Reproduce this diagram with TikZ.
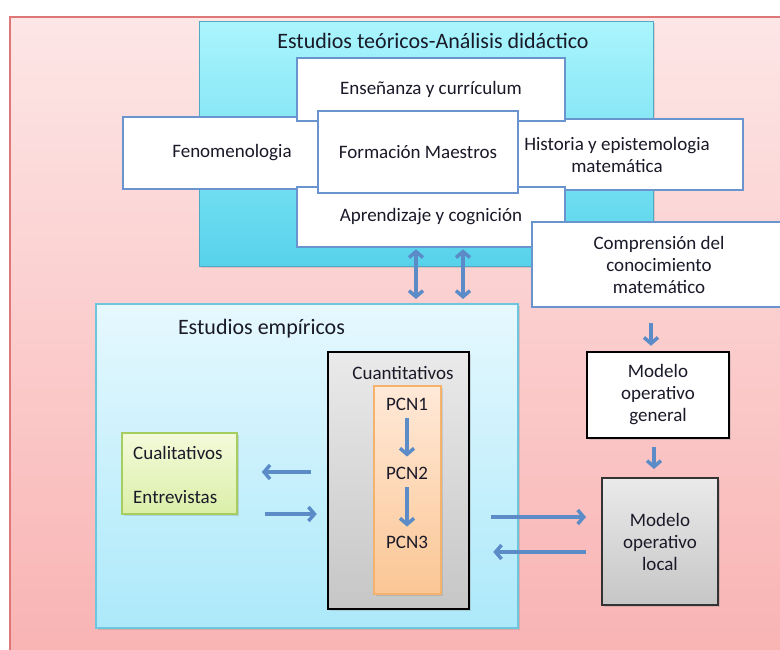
\documentclass[tikz,border=0pt]{standalone}
\usepackage{fontspec}
\setmainfont{Carlito}
\usetikzlibrary{arrows.meta,shadows}

\definecolor{pinkTop}{RGB}{253,230,230}
\definecolor{pinkBot}{RGB}{249,178,178}
\definecolor{pinkEdge}{RGB}{222,120,120}
\definecolor{cyanTop}{RGB}{170,245,253}
\definecolor{cyanBot}{RGB}{86,210,235}
\definecolor{cyanEdge}{RGB}{80,170,195}
\definecolor{empTop}{RGB}{230,248,254}
\definecolor{empBot}{RGB}{172,233,250}
\definecolor{empEdge}{RGB}{110,198,222}
\definecolor{boxblue}{RGB}{105,148,205}
\definecolor{arrowblue}{RGB}{92,140,200}
\definecolor{greyTop}{RGB}{234,234,234}
\definecolor{greyBot}{RGB}{198,198,198}
\definecolor{orTop}{RGB}{255,233,216}
\definecolor{orBot}{RGB}{251,198,148}
\definecolor{orEdge}{RGB}{244,178,108}
\definecolor{grTop}{RGB}{244,250,218}
\definecolor{grBot}{RGB}{219,239,168}
\definecolor{grEdge}{RGB}{165,205,95}
\definecolor{ink}{RGB}{25,25,40}

\begin{document}
\begin{tikzpicture}[x=1pt,y=-1pt,
  shadowed/.style={drop shadow={shadow xshift=2pt,shadow yshift=-2pt,opacity=0.25}},
  boxtext/.style={font=\fontsize{19}{22}\selectfont,text=ink,align=center},
  wbox/.style={boxtext,draw=boxblue,line width=2.5pt,fill=white,inner sep=0pt},
  tbox/.style={shadowed,draw=cyanEdge,line width=1pt,top color=cyanTop,bottom color=cyanBot,inner sep=0pt},
  ebox/.style={shadowed,draw=empEdge,line width=2pt,top color=empTop,bottom color=empBot,inner sep=0pt},
  gbox/.style={shadowed,draw=grEdge,line width=1.5pt,top color=grTop,bottom color=grBot,inner sep=0pt},
  qbox/.style={shadowed,draw=black,line width=2.5pt,top color=greyTop,bottom color=greyBot,inner sep=0pt},
  obox/.style={shadowed,draw=orEdge,line width=1.5pt,top color=orTop,bottom color=orBot,inner sep=0pt},
  kbox/.style={boxtext,shadowed,draw=black,line width=2.5pt,fill=white,inner sep=0pt},
  lbox/.style={boxtext,shadowed,draw=black!80,line width=2pt,top color=greyTop,bottom color=greyBot,inner sep=0pt},
  lbl/.style={boxtext,inner sep=0pt},
  heading/.style={font=\fontsize{22}{26}\selectfont,text=ink,inner sep=0pt},
  arr/.style={draw=arrowblue,line width=3.5pt,-{Straight Barb[length=6pt,width=14pt]}},
  dbl/.style={draw=arrowblue,line width=3.5pt,{Straight Barb[length=6pt,width=14pt]}-{Straight Barb[length=6pt,width=14pt]}}
]
\useasboundingbox (0,0) rectangle (780,649);
\begin{scope}
\clip (0,0) rectangle (780,649);
\fill[white] (0,0) rectangle (780,649);

% outer frame
\shade[top color=pinkTop,bottom color=pinkBot] (10,17) rectangle (800,670);
\draw[pinkEdge,line width=1.5pt] (10,670) -- (10,17) -- (800,17);

% theoretical studies
\node[tbox,minimum width=454pt,minimum height=245pt] (teo) at (426,143.5) {};
\node[heading] (teotitle) at (433,41) {Estudios teóricos-Análisis didáctico};

\node[wbox,minimum width=218pt,minimum height=72pt] (fen) at (232,153) {Fenomenologia};
\node[wbox,minimum width=252pt,minimum height=71pt] (hist) at (617,154.5) {Historia y epistemologia\\matemática};
\node[wbox,minimum width=268pt,minimum height=63pt] (ens) at (431,89.5) {Enseñanza y currículum};
\node[wbox,minimum width=268pt,minimum height=60pt] (apr) at (431,217) {Aprendizaje y cognición};
\node[wbox,minimum width=200pt,minimum height=82pt] (form) at (418,152) {Formación Maestros};
\node[wbox,minimum width=254pt,minimum height=85pt] (comp) at (659,264.5) {Comprensión del\\conocimiento\\matemático};

% empirical studies
\node[ebox,minimum width=422pt,minimum height=324pt] (emp) at (307,466) {};
\node[heading] (emptitle) at (261.5,329) {Estudios empíricos};

\node[gbox,minimum width=115pt,minimum height=81pt] (cual) at (179.5,473.5) {};
\node[lbl,anchor=west] (cualt) at (133,453) {Cualitativos};
\node[lbl,anchor=west] (entr) at (133,497) {Entrevistas};

\node[qbox,minimum width=141pt,minimum height=257pt] (cuant) at (398.5,480.5) {};
\node[lbl] (cuantt) at (403,373) {Cuantitativos};
\node[obox,minimum width=67pt,minimum height=208pt] (pcn) at (407.5,490) {};
\node[lbl] (p1) at (407,404) {PCN1};
\node[lbl] (p2) at (407,473) {PCN2};
\node[lbl] (p3) at (407,542) {PCN3};

% operative models
\node[kbox,minimum width=142pt,minimum height=86pt] (gen) at (658,395) {Modelo\\operativo\\general};
\node[lbox,minimum width=116pt,minimum height=127pt] (loc) at (660,541.5) {Modelo\\operativo\\local};

% connectors
\draw[arr,shorten <=8pt,shorten >=10pt] (p1) -- (p2);
\draw[arr,shorten <=8pt,shorten >=9pt] (p2) -- (p3);

\draw[dbl,shorten <=1pt,shorten >=4pt] ([xshift=-15pt]apr.south) -- ([xshift=-15pt]apr.south |- emp.north);
\draw[dbl,shorten <=1pt,shorten >=4pt] ([xshift=32pt]apr.south) -- ([xshift=32pt]apr.south |- emp.north);

\draw[arr,shorten <=15pt,shorten >=5pt] ([xshift=-8pt]comp.south) -- ([xshift=-8pt]comp.south |- gen.north);
\draw[arr,shorten <=8pt,shorten >=8pt] ([xshift=-4pt]gen.south) -- ([xshift=-4pt]gen.south |- loc.north);

\draw[arr,shorten <=21pt,shorten >=15pt] ([yshift=-36.5pt]cuant.east) -- ([yshift=-36.5pt]cuant.east -| loc.west);
\draw[arr,shorten <=15pt,shorten >=23pt] ([yshift=-10.5pt]loc.west) -- ([yshift=-10.5pt]loc.west -| cuant.east);

\draw[arr,shorten <=16pt,shorten >=24pt] ([yshift=1.5pt]cual.east -| cuant.west) -- ([yshift=1.5pt]cual.east);
\draw[arr,shorten <=27pt,shorten >=10pt] ([yshift=-40.5pt]cual.east) -- ([yshift=-40.5pt]cual.east -| cuant.west);
\end{scope}
\end{tikzpicture}
\end{document}
